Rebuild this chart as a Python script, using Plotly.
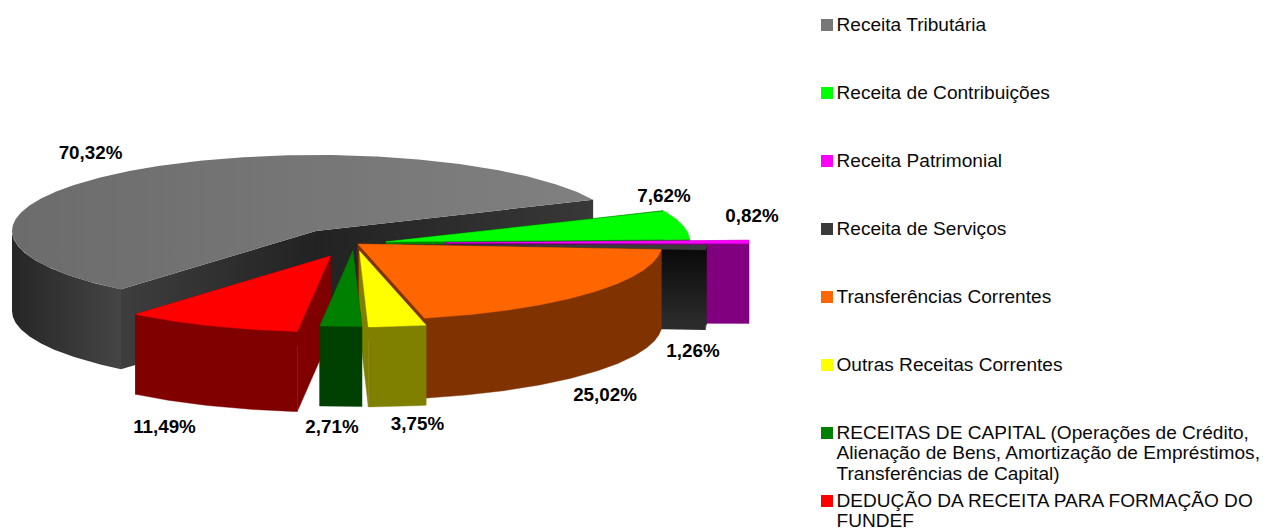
import numpy as np
import plotly.graph_objects as go

# ---- data
categories = ["Receita Tributária", "Receita de Contribuições", "Receita Patrimonial",
              "Receita de Serviços", "Transferências Correntes", "Outras Receitas Correntes",
              "RECEITAS DE CAPITAL (Operações de Crédito,\nAlienação de Bens, Amortização de Empréstimos,\nTransferências de Capital)",
              "DEDUÇÃO DA RECEITA PARA FORMAÇÃO DO\nFUNDEF"]
values = [70.32, 7.62, 0.82, 1.26, 25.02, 3.75, 2.71, 11.49]

# ---- style / layout (pixel space of the page)
top_colors = ["#777777", "#00ff00", "#ff00ff", "#3a3a3a", "#ff6600", "#ffff00", "#008000", "#ff0000"]
side_colors = ["#333333", "#008000", "#800080", "#1c1c1c", "#803300", "#808000", "#004000", "#800000"]
apex_x = [316, 386, 445, 402.5, 358, 359.5, 353, 330.5]
apex_y = [231, 241.8, 242.8, 244.5, 244, 251, 250.5, 256]
label_x = [90.5, 664, 752, 693, 605, 417.5, 332, 164.5]
label_y = [154, 197, 217, 352, 396, 425, 428, 428]
legend_y = [25, 93, 161, 229, 297, 365, 433, 501]
draw_order = [0, 1, 2, 3, 4, 5, 7, 6]
RX, RY, DEPTH = 304, 76, 80
START_ANGLE = 230.1
LINE_STEP = 20.6
FONT = "Liberation Sans"

total = sum(values)
ends = []
a = START_ANGLE
for v in values:
    b = a - v / total * 360
    ends.append((a, b))
    a = b

fig = go.Figure()


def rim(i, t):
    r = np.radians(t)
    return apex_x[i] + RX * np.cos(r), apex_y[i] - RY * np.sin(r)


def add_poly(xs, ys, color=None, grad=None):
    tr = dict(x=list(xs), y=list(ys), mode="lines", fill="toself",
              line=dict(width=0.4, color=color or "rgba(0,0,0,0)"),
              hoverinfo="skip", showlegend=False)
    if grad is not None:
        tr["fillgradient"] = dict(type=grad[0], colorscale=[[0, grad[1]], [1, grad[2]]])
        tr["line"] = dict(width=0, color="rgba(0,0,0,0)")
    else:
        tr["fillcolor"] = color
    fig.add_trace(go.Scatter(**tr))


def cut_face(i, t, color=None, grad=None):
    x, y = rim(i, t)
    ax, ay = apex_x[i], apex_y[i]
    add_poly([ax, x, x, ax, ax], [ay, y, y + DEPTH, ay + DEPTH, ay], color, grad)


side_grad = {0: ("horizontal", "#262626", "#454545"),
             3: ("vertical", "#2c2c2c", "#080808")}
cut_grad = {0: ("horizontal", "#202020", "#3e3e3e"),
            3: ("vertical", "#2c2c2c", "#080808")}

for i in draw_order:
    a, b = ends[i]
    ts = np.linspace(a, b, max(int((a - b) * 2), 2) + 1)
    # cut faces
    if i == 0:
        x0, y0 = rim(0, a)
        add_poly([apex_x[0], x0, x0, apex_x[0], apex_x[0]],
                 [apex_y[0], y0, y0 + DEPTH, apex_y[0] + DEPTH, apex_y[0]],
                 grad=("horizontal", "#3e3e3e", "#222222"))
        x1, y1 = rim(0, b)
        add_poly([apex_x[0], x1, x1, apex_x[0], apex_x[0]],
                 [apex_y[0], y1, y1 + DEPTH, apex_y[0] + DEPTH, apex_y[0]],
                 grad=("horizontal", "#222222", "#383838"))
    else:
        g = cut_grad.get(i)
        cut_face(i, b, None if g else side_colors[i], g)
        cut_face(i, a, None if g else side_colors[i], g)
    # outer rim, only the part facing the viewer
    front = ts[np.sin(np.radians(ts)) <= 0]
    if len(front) > 1:
        rx, ry = rim(i, front)
        g = side_grad.get(i)
        add_poly(np.r_[rx, rx[::-1], rx[0]], np.r_[ry, ry[::-1] + DEPTH, ry[0]],
                 None if g else side_colors[i], g)
    # top face
    tx, ty = rim(i, ts)
    grad = ("horizontal", "#6c6c6c", "#808080") if i == 0 else None
    add_poly(np.r_[apex_x[i], tx, apex_x[i]], np.r_[apex_y[i], ty, apex_y[i]],
             None if grad else top_colors[i], grad)

# value labels
labels = [f"{v:.2f}".replace(".", ",") + "%" for v in values]
fig.add_trace(go.Scatter(x=label_x, y=label_y, mode="text", text=labels,
                         textposition="middle center", hoverinfo="skip", showlegend=False,
                         textfont=dict(family=FONT, size=18.8, color="#000000", weight="bold")))

# legend
fig.add_trace(go.Scatter(x=[827] * len(categories), y=legend_y, mode="markers", hoverinfo="skip",
                         showlegend=False,
                         marker=dict(symbol="square", size=12, color=top_colors, line=dict(width=0))))
lx, ly, lt = [], [], []
for y0, name in zip(legend_y, categories):
    for k, part in enumerate(name.split("\n")):
        lx.append(836.5)
        ly.append(y0 + 1 + k * LINE_STEP)
        lt.append(part)
fig.add_trace(go.Scatter(x=lx, y=ly, mode="text", text=lt, textposition="middle right",
                         hoverinfo="skip", showlegend=False,
                         textfont=dict(family=FONT, size=19.1, color="#0a0a0a")))

fig.update_layout(width=1263, height=528, margin=dict(l=0, r=0, t=0, b=0),
                  paper_bgcolor="white", plot_bgcolor="white", showlegend=False,
                  xaxis=dict(range=[0, 1263], visible=False, fixedrange=True),
                  yaxis=dict(range=[528, 0], visible=False, fixedrange=True))
fig.write_html("out.html", config={"displayModeBar": False},
               post_script="document.body.style.margin='0';document.body.style.overflow='hidden';")
